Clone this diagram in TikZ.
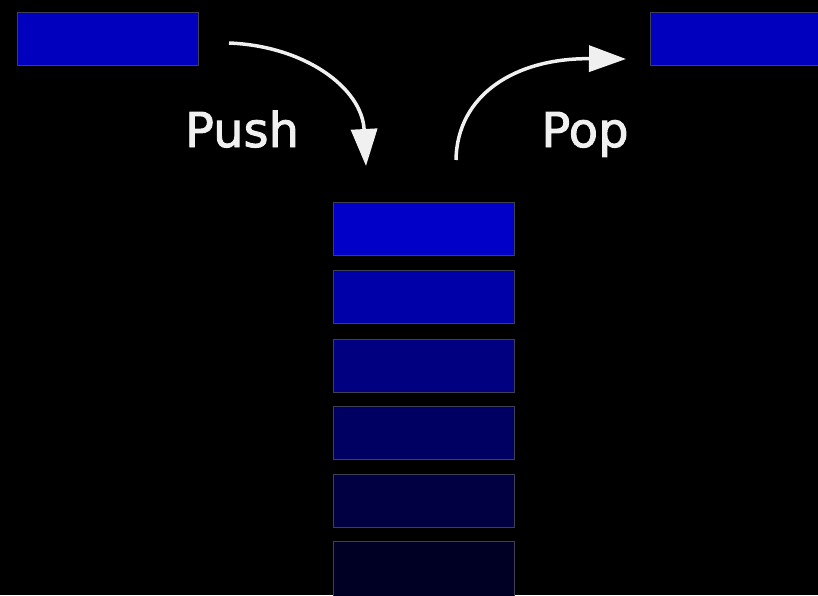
\documentclass[tikz,border=0pt]{standalone}
\usepackage{fontspec}
\setmainfont{DejaVu Sans}
\usetikzlibrary{arrows.meta}
\definecolor{topblue}{RGB}{0,0,190}
\definecolor{sA}{RGB}{0,0,200}
\definecolor{sB}{RGB}{0,0,168}
\definecolor{sC}{RGB}{0,0,128}
\definecolor{sD}{RGB}{0,0,98}
\definecolor{sE}{RGB}{0,0,66}
\definecolor{sF}{RGB}{0,0,36}
\definecolor{edge}{RGB}{64,64,84}
\definecolor{txt}{RGB}{240,240,240}
\newcommand{\thicktext}[1]{\special{pdf:literal 2 Tr 0.9 w 0.94 0.94 0.94 RG}#1\special{pdf:literal 0 Tr}}
\tikzset{
  cell/.style={draw=edge, line width=0.8pt, minimum width=181pt, minimum height=53pt, inner sep=0pt, anchor=north west},
  biglabel/.style={text=txt, font=\fontsize{48}{50}\selectfont, inner sep=0pt, anchor=base},
  curvearrow/.style={draw=txt, line width=3.5pt, -{Triangle[length=37pt,width=26pt]}}
}
\begin{document}
\begin{tikzpicture}[x=1pt,y=-1pt]
\fill[black] (0,0) rectangle (818,595);
\useasboundingbox (0,0) rectangle (818,595);
% top boxes
\node[cell, fill=topblue] (inbox) at (17,12) {};
\node[cell, fill=topblue, minimum width=172pt] (outbox) at (650,12) {};
% stack
\node[cell, fill=sA] (s1) at (333,202) {};
\node[cell, fill=sB] (s2) at (333,270) {};
\node[cell, fill=sC] (s3) at (333,339) {};
\node[cell, fill=sD] (s4) at (333,406) {};
\node[cell, fill=sE] (s5) at (333,474) {};
\node[cell, fill=sF, minimum height=60pt] (s6) at (333,541) {};
% labels
\node[biglabel] (push) at (242,147) {\thicktext{Push}};
\node[biglabel] (pop) at (585,147) {\thicktext{Pop}};
% arrows
\coordinate (pushstart) at (229,43);
\coordinate (pushend) at (366,166);
\coordinate (popstart) at (456,160);
\coordinate (popend) at (626,59);
\draw[curvearrow] (pushstart) .. controls (305,46) and (362,88) .. (pushend);
\draw[curvearrow] (popstart) .. controls (457,95) and (515,58) .. (popend);
\end{tikzpicture}
\end{document}
